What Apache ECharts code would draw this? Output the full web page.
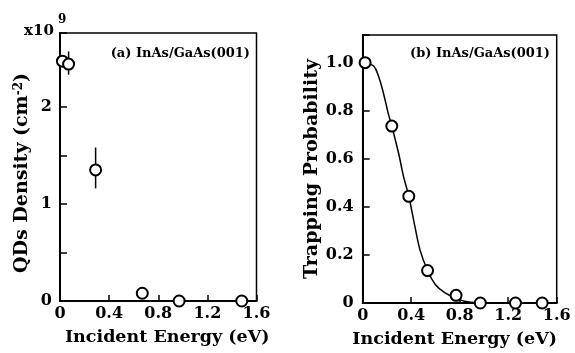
<!DOCTYPE html>
<html>
<head>
<meta charset="utf-8">
<script src="https://cdn.jsdelivr.net/npm/echarts@6/dist/echarts.min.js"></script>
<style>
  html, body { margin: 0; padding: 0; background: #fff; }
  #chart { width: 575px; height: 353px; }
</style>
</head>
<body>
<div id="chart"></div>
<script>
// (a) QD density vs incident energy, units of 1e9 cm^-2
const densityEnergy = [0.02, 0.07, 0.29, 0.67, 0.97, 1.48];
const densityValue = [2.47, 2.44, 1.35, 0.08, 0.0, 0.0];
const densityErrLow = [2.47, 2.33, 1.16, 0.08, 0.0, 0.0];
const densityErrHigh = [2.47, 2.57, 1.58, 0.08, 0.0, 0.0];

// (b) trapping probability vs incident energy
const trapEnergy = [0.02, 0.24, 0.38, 0.535, 0.77, 0.97, 1.26, 1.48];
const trapValue = [1.0, 0.736, 0.444, 0.135, 0.032, 0.0, 0.0, 0.0];

// fitted curve
const curveEnergy = [0.02, 0.09, 0.13, 0.17, 0.21, 0.24, 0.295, 0.336, 0.38, 0.43, 0.473, 0.535, 0.6, 0.68, 0.77, 0.84, 0.95];
const curveValue = [1.0, 0.986, 0.944, 0.875, 0.79, 0.736, 0.625, 0.528, 0.444, 0.32, 0.22, 0.135, 0.076, 0.042, 0.02, 0.007, 0.0];

const xTicks = [0, 0.4, 0.8, 1.2, 1.6];
const probTicks = [0, 0.2, 0.4, 0.6, 0.8, 1.0];

const FONT = 'DejaVu Serif';

let myChart = echarts.init(document.getElementById('chart'));

const zip = (a, b) => a.map((v, i) => [v, b[i]]);
const onTick = (list, v) => list.some(t => Math.abs(t - v) < 1e-6);

function xAxisFor(gridIndex, namePadding) {
    return {
        gridIndex: gridIndex,
        type: 'value',
        min: 0,
        max: 1.6,
        interval: 0.4,
        name: 'Incident Energy (eV)',
        nameLocation: 'middle',
        nameGap: 27,
        nameTextStyle: {color: '#000', fontFamily: FONT, fontWeight: 'bold', fontSize: 17.5, padding: namePadding},
        axisLine: {show: true, lineStyle: {color: '#000', width: 2}},
        axisTick: {show: true, inside: true, length: 6, lineStyle: {color: '#000', width: 1.5}},
        axisLabel: {
            color: '#000', fontFamily: FONT, fontWeight: 'bold', fontSize: 16, margin: 5,
            formatter: function (v) {
                return onTick(xTicks, v) ? (v === 0 ? '0' : v.toFixed(1)) : '';
            },
        },
        splitLine: {show: false},
    };
}

const option = {
    animation: false,
    backgroundColor: '#fff',
    grid: [
        {left: 60, right: 318.5, top: 33, bottom: 52, show: true, borderColor: '#000', borderWidth: 1.5},
        {left: 362.7, right: 18.3, top: 35, bottom: 50, show: true, borderColor: '#000', borderWidth: 1.5},
    ],
    xAxis: [xAxisFor(0, [0, 0, 0, 18]), xAxisFor(1, [0, 10, 0, 0])],
    yAxis: [
        {
            gridIndex: 0,
            type: 'value',
            min: 0,
            max: 2.76,
            interval: 0.5,
            name: 'QDs Density (cm{s|-2})',
            nameLocation: 'middle',
            nameGap: 28,
            nameTextStyle: {
                color: '#000', fontFamily: FONT, fontWeight: 'bold', fontSize: 19, padding: [0, 12, 0, 0],
                rich: {s: {fontFamily: FONT, fontWeight: 'bold', fontSize: 12, verticalAlign: 'top', color: '#000'}},
            },
            axisLine: {show: true, lineStyle: {color: '#000', width: 2}},
            axisTick: {show: true, inside: true, length: 7, lineStyle: {color: '#000', width: 1.5}},
            axisLabel: {
                color: '#000', fontFamily: FONT, fontWeight: 'bold', fontSize: 16, margin: 8,
                formatter: function (v) {
                    return Number.isInteger(v) ? String(v) : '';
                },
            },
            splitLine: {show: false},
        },
        {
            gridIndex: 1,
            type: 'value',
            min: 0,
            max: 1.115,
            interval: 0.2,
            name: 'Trapping Probability',
            nameLocation: 'middle',
            nameGap: 41,
            nameTextStyle: {color: '#000', fontFamily: FONT, fontWeight: 'bold', fontSize: 19},
            axisLine: {show: true, lineStyle: {color: '#000', width: 2}},
            axisTick: {show: true, inside: true, length: 7, lineStyle: {color: '#000', width: 1.5}},
            axisLabel: {
                color: '#000', fontFamily: FONT, fontWeight: 'bold', fontSize: 16, margin: 9,
                formatter: function (v) {
                    if (!onTick(probTicks, v)) return '';
                    return v === 0 ? '0' : v.toFixed(1);
                },
            },
            splitLine: {show: false},
        },
    ],
    graphic: [
        {
            type: 'text',
            left: 24,
            top: 24,
            style: {text: 'x10', fontFamily: FONT, fontWeight: 'bold', fontSize: 15, fill: '#000'},
        },
        {
            type: 'text',
            left: 58,
            top: 14,
            style: {text: '9', fontFamily: FONT, fontWeight: 'bold', fontSize: 12, fill: '#000'},
        },
        {
            type: 'text',
            right: 325,
            top: 47,
            style: {text: '(a) InAs/GaAs(001)', fontFamily: FONT, fontWeight: 'bold', fontSize: 13, fill: '#000'},
        },
        {
            type: 'text',
            right: 25,
            top: 47,
            style: {text: '(b) InAs/GaAs(001)', fontFamily: FONT, fontWeight: 'bold', fontSize: 13, fill: '#000'},
        },
    ],
    series: [
        {
            // error bars for panel (a)
            type: 'custom',
            xAxisIndex: 0,
            yAxisIndex: 0,
            data: densityEnergy.map((x, i) => [x, densityErrLow[i], densityErrHigh[i]]),
            renderItem: function (params, api) {
                const lo = api.coord([api.value(0), api.value(1)]);
                const hi = api.coord([api.value(0), api.value(2)]);
                return {
                    type: 'line',
                    shape: {x1: lo[0], y1: lo[1], x2: hi[0], y2: hi[1]},
                    style: {stroke: '#000', lineWidth: 1.5},
                };
            },
            z: 2,
        },
        {
            type: 'scatter',
            xAxisIndex: 0,
            yAxisIndex: 0,
            data: zip(densityEnergy, densityValue),
            symbol: 'circle',
            symbolSize: 11,
            itemStyle: {color: '#fff', borderColor: '#000', borderWidth: 2, opacity: 1},
            clip: false,
            z: 3,
        },
        {
            type: 'line',
            xAxisIndex: 1,
            yAxisIndex: 1,
            data: zip(curveEnergy, curveValue),
            smooth: 0.4,
            showSymbol: false,
            lineStyle: {color: '#000', width: 1.5},
            z: 2,
        },
        {
            type: 'scatter',
            xAxisIndex: 1,
            yAxisIndex: 1,
            data: zip(trapEnergy, trapValue),
            symbol: 'circle',
            symbolSize: 11,
            itemStyle: {color: '#fff', borderColor: '#000', borderWidth: 2, opacity: 1},
            clip: false,
            z: 3,
        },
    ],
};

myChart.setOption(option);
</script>
</body>
</html>
